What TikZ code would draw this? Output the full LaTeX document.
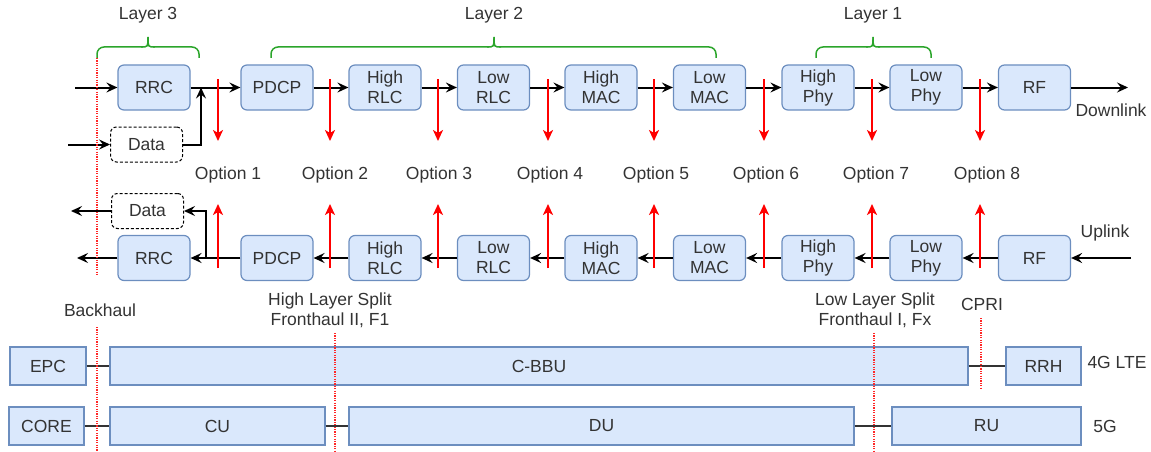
\documentclass[tikz,border=0pt]{standalone}
\usepackage{fontspec}
\setmainfont{Liberation Sans}
\usetikzlibrary{arrows.meta}
\definecolor{boxfill}{HTML}{DAE8FC}
\definecolor{boxline}{HTML}{6C8EBF}
\definecolor{txt}{HTML}{333333}
\definecolor{brace}{HTML}{2BA52B}
\begin{document}
\begin{tikzpicture}[x=1pt,y=-1pt,
  font=\fontsize{17.5}{20}\selectfont, text=txt,
  blk/.style={draw=boxline, fill=boxfill, rounded corners=6pt, line width=1.2pt,
    minimum width=72pt, minimum height=45pt, align=center, inner sep=0pt},
  datab/.style={draw=black, fill=white, dash pattern=on 3pt off 2pt, rounded corners=6pt, line width=1pt,
    minimum width=72pt, minimum height=35pt, inner sep=0pt},
  bar/.style={draw=boxline, fill=boxfill, line width=1.2pt, minimum height=38pt, inner sep=0pt},
  flow/.style={draw=black, line width=2pt, -{Stealth[length=11pt,width=10pt,inset=4pt]}},
  opt/.style={draw=red, line width=2pt, -{Stealth[length=11pt,width=10pt,inset=3pt]}},
  split/.style={draw=red!85!white, line width=1.5pt, dash pattern=on 1.2pt off 1.2pt},
  link/.style={draw=txt, line width=2pt},
  br/.style={draw=brace, line width=1.5pt, rounded corners=7pt},
  lbl/.style={align=center, inner sep=0pt}
]
\useasboundingbox (0,0) rectangle (1151,452);

% downlink boxes
\foreach \n/\x/\t in {d1/154/RRC, d2/277/PDCP, d3/385/{High\\RLC}, d4/493.5/{Low\\RLC},
  d5/601/{High\\MAC}, d6/709.5/{Low\\MAC}, d7/818/{High\\Phy}, d8/926/{Low\\Phy}, d9/1034.5/RF}
  {\node[blk] (\n) at (\x,87.5) {\t};}
% uplink boxes
\foreach \n/\x/\t in {u1/154/RRC, u2/277/PDCP, u3/385/{High\\RLC}, u4/493.5/{Low\\RLC},
  u5/601/{High\\MAC}, u6/709.5/{Low\\MAC}, u7/818/{High\\Phy}, u8/926/{Low\\Phy}, u9/1034.5/RF}
  {\node[blk] (\n) at (\x,258) {\t};}

\node[datab] (dd) at (146.5,144.5) {Data};
\node[datab] (ud) at (147.5,211) {Data};

% downlink flow
\coordinate (dinA) at (75,87.5);
\coordinate (dinB) at (68,144.5);
\coordinate (dout) at (1128,87.5);
\coordinate (dj) at (201,87.5);
\draw[flow] (dinA) -- (d1);
\draw[flow] (dinB) -- (dd);
\draw[flow] (dd.east) -| (dj);
\foreach \a/\b in {d1/d2,d2/d3,d3/d4,d4/d5,d5/d6,d6/d7,d7/d8,d8/d9}
  \draw[flow] (\a) -- (\b);
\draw[flow] (d9) -- (dout);

% uplink flow
\coordinate (uin) at (1131,258);
\coordinate (uoA) at (77,258);
\coordinate (uoB) at (71,211);
\coordinate (uj) at (206,258);
\draw[flow] (uin) -- (u9);
\foreach \a/\b in {u9/u8,u8/u7,u7/u6,u6/u5,u5/u4,u4/u3,u3/u2,u2/u1}
  \draw[flow] (\a) -- (\b);
\draw[flow] (uj) |- (ud.east);
\draw[flow] (u1) -- (uoA);
\draw[flow] (ud) -- (uoB);

\node[lbl, anchor=center] (dl) at (1111,110) {Downlink};
\node[lbl, anchor=center] (ul) at (1105,233) {Uplink};

% option arrows and labels
\foreach \i/\x/\lx in {1/218/228, 2/330/335, 3/438/439, 4/548/550, 5/654/656, 6/764/766, 7/872/876, 8/980/987}{
  \coordinate (da\i) at (\x,79);
  \coordinate (db\i) at (\x,141);
  \coordinate (ua\i) at (\x,268);
  \coordinate (ub\i) at (\x,204);
  \draw[opt] (da\i) -- (db\i);
  \draw[opt] (ua\i) -- (ub\i);
  \node[lbl] (o\i) at (\lx,175) {Option \i};
}

% braces
\draw[br] (97,58) -- (97,47) -- (143,47);
\draw[br] (199,58) -- (199,47) -- (153,47);
\draw[brace, line width=1.5pt] (141,47) .. controls (148,47) .. (148,37);
\draw[brace, line width=1.5pt] (155,47) .. controls (148,47) .. (148,37);
\node[lbl] (l3) at (148,15) {Layer 3};

\draw[br] (271,58) -- (271,47) -- (489,47);
\draw[br] (716,58) -- (716,47) -- (499,47);
\draw[brace, line width=1.5pt] (487,47) .. controls (494,47) .. (494,37);
\draw[brace, line width=1.5pt] (501,47) .. controls (494,47) .. (494,37);
\node[lbl] (l2) at (494,15) {Layer 2};

\draw[br] (816,58) -- (816,47) -- (868,47);
\draw[br] (931,58) -- (931,47) -- (878,47);
\draw[brace, line width=1.5pt] (866,47) .. controls (873,47) .. (873,37);
\draw[brace, line width=1.5pt] (880,47) .. controls (873,47) .. (873,37);
\node[lbl] (l1) at (873,15) {Layer 1};

% bottom bars
\node[bar, minimum width=76pt] (epc) at (48,366) {EPC};
\node[bar, minimum width=858pt] (bbu) at (539,366) {C-BBU};
\node[bar, minimum width=75pt] (rrh) at (1043.5,366) {RRH};
\node[bar, minimum width=75pt] (core) at (46.5,426) {CORE};
\node[bar, minimum width=215pt] (cu) at (217.5,426) {CU};
\node[bar, minimum width=505pt] (du) at (601.5,426) {DU};
\node[bar, minimum width=189pt] (ru) at (986.5,426) {RU};
\draw[link] (epc) -- (bbu);
\draw[link] (bbu) -- (rrh);
\draw[link] (core) -- (cu);
\draw[link] (cu) -- (du);
\draw[link] (du) -- (ru);
\node[lbl] (g4) at (1117,362) {4G LTE};
\node[lbl] (g5) at (1105,426) {5G};

% split lines
\coordinate (s1a) at (97,58); \coordinate (s1b) at (97,275);
\coordinate (s2a) at (97,327); \coordinate (s2b) at (97,452);
\coordinate (s3a) at (335,333); \coordinate (s3b) at (335,452);
\coordinate (s4a) at (874,333); \coordinate (s4b) at (874,452);
\coordinate (s5a) at (981,318); \coordinate (s5b) at (981,389);
\draw[split] (s1a) -- (s1b);
\draw[split] (s2a) -- (s2b);
\draw[split] (s3a) -- (s3b);
\draw[split] (s4a) -- (s4b);
\draw[split] (s5a) -- (s5b);

\node[lbl] (bh) at (100,310) {Backhaul};
\node[lbl] (hls) at (330,310) {High Layer Split\\Fronthaul II, F1};
\node[lbl] (lls) at (875,310) {Low Layer Split\\Fronthaul I, Fx};
\node[lbl] (cpri) at (982,304) {CPRI};
\end{tikzpicture}
\end{document}
